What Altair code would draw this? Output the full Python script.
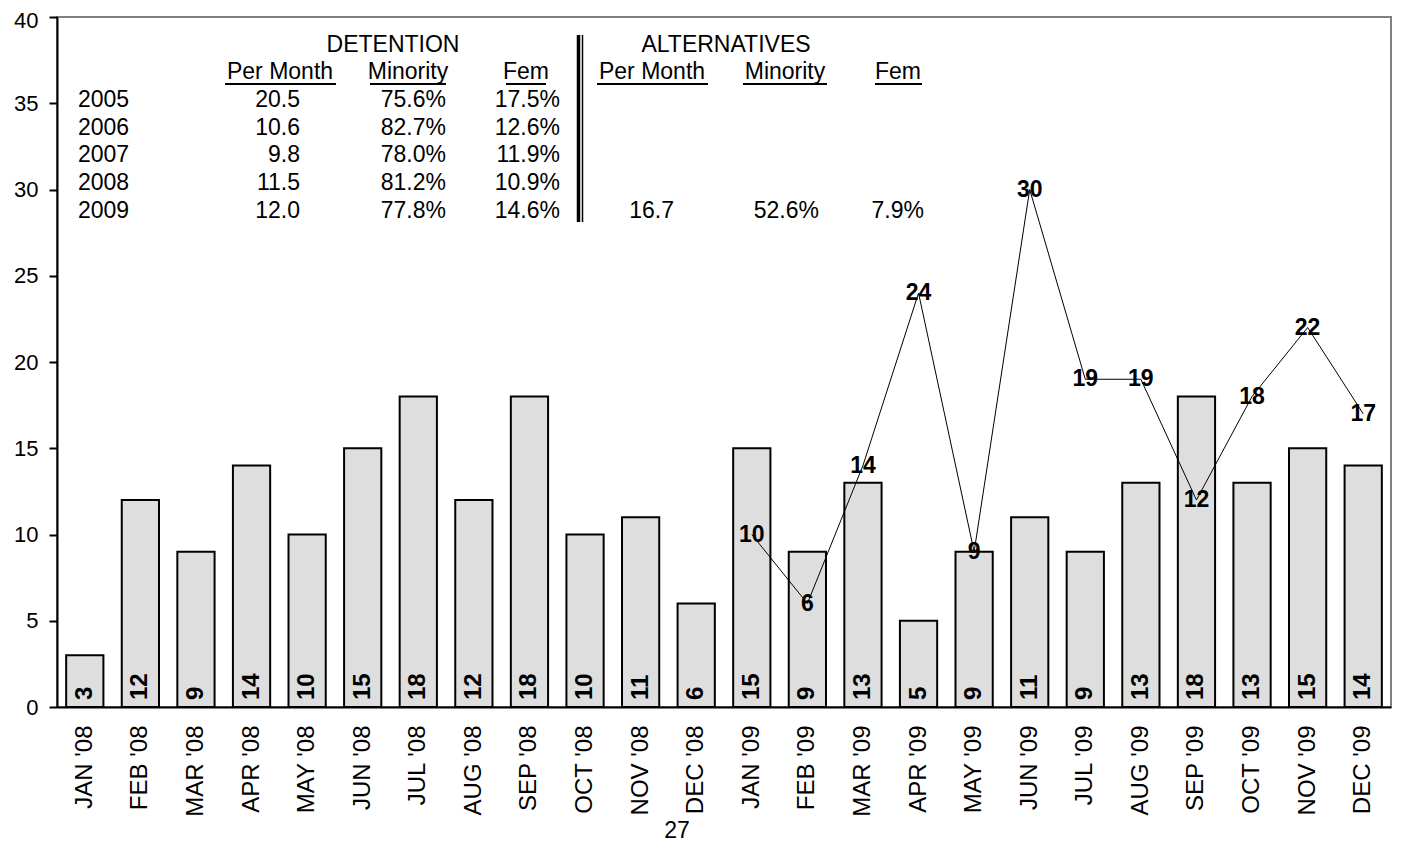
import altair as alt
import pandas as pd

# ---------------- data ----------------
months = ["JAN '08", "FEB '08", "MAR '08", "APR '08", "MAY '08", "JUN '08",
          "JUL '08", "AUG '08", "SEP '08", "OCT '08", "NOV '08", "DEC '08",
          "JAN '09", "FEB '09", "MAR '09", "APR '09", "MAY '09", "JUN '09",
          "JUL '09", "AUG '09", "SEP '09", "OCT '09", "NOV '09", "DEC '09"]
detention = [3, 12, 9, 14, 10, 15, 18, 12, 18, 10, 11, 6,
             15, 9, 13, 5, 9, 11, 9, 13, 18, 13, 15, 14]
alt_months = months[12:]
alternatives = [10, 6, 14, 24, 9, 30, 19, 19, 12, 18, 22, 17]

years = ["2005", "2006", "2007", "2008", "2009"]
det_per_month = ["20.5", "10.6", "9.8", "11.5", "12.0"]
det_minority = ["75.6%", "82.7%", "78.0%", "81.2%", "77.8%"]
det_fem = ["17.5%", "12.6%", "11.9%", "10.9%", "14.6%"]
alt_2009 = ["16.7", "52.6%", "7.9%"]
col_heads = ["Per Month", "Minority", "Fem"]
group_heads = ["DETENTION", "ALTERNATIVES"]
page_number = "27"

# ---------------- layout ----------------
W, H = 1334, 690
X0, Y0 = 57, 17          # page position of plot origin
FONT = "Liberation Sans"
TABLE_FS = 23

def px(v):
    return v - X0

def py(v):
    return v - Y0

row_y = [100, 128, 155, 183, 211]
title_y, head_y, uline_y = 45, 72, 84
det_right = [300, 446, 560]
alt_right = [674, 819, 924]
det_head_c = [280, 408, 526]
alt_head_c = [652, 785, 898]
det_ul = [(225, 336), (370, 446), (506, 546)]
alt_ul = [(597, 708), (743, 827), (875, 922)]

bars_df = pd.DataFrame({"month": months, "count": detention})
line_df = pd.DataFrame({"month": alt_months, "count": alternatives})

x_enc = alt.X("month:N", sort=months,
              scale=alt.Scale(paddingInner=0.33, paddingOuter=0.165),
              axis=alt.Axis(title=None, labelAngle=-90, ticks=False,
                            domainColor="black", domainWidth=2,
                            labelFontSize=24, labelColor="black",
                            labelFont=FONT, labelPadding=18))
y_scale = alt.Scale(domain=[0, 40], nice=False)
y_enc = alt.Y("count:Q", scale=y_scale,
              axis=alt.Axis(title=None, values=list(range(0, 41, 5)), grid=False,
                            domainColor="black", domainWidth=2,
                            tickColor="black", tickWidth=2, tickSize=8,
                            labelFontSize=22, labelColor="black",
                            labelFont=FONT, labelPadding=11,
                            labelOffset={"condition": {"test": "datum.value == 40",
                                                       "value": 3},
                                         "value": 0}))

bars = alt.Chart(bars_df).mark_bar(fill="#dedede", stroke="black",
                                   strokeWidth=2).encode(x=x_enc, y=y_enc)

bar_labels = alt.Chart(bars_df).mark_text(
    angle=270, align="left", baseline="middle", dx=7,
    fontWeight="bold", fontSize=24, font=FONT, color="black"
).encode(x=alt.X("month:N", sort=months), y=alt.datum(0), text="count:Q")

line = alt.Chart(line_df).mark_line(color="black", strokeWidth=1).encode(
    x=alt.X("month:N", sort=months), y=alt.Y("count:Q"))

line_labels = alt.Chart(line_df).mark_text(
    align="center", baseline="middle", fontWeight="bold", fontSize=23,
    font=FONT, color="black"
).encode(x=alt.X("month:N", sort=months), y=alt.Y("count:Q"), text="count:Q")

main = alt.layer(bars, bar_labels, line, line_labels)

# ---------------- table annotation ----------------
left_rows, right_rows, center_rows = [], [], []
for yr, yy in zip(years, row_y):
    left_rows.append({"t": yr, "x": px(78), "y": py(yy)})
for col, xr in zip([det_per_month, det_minority, det_fem], det_right):
    for v, yy in zip(col, row_y):
        right_rows.append({"t": v, "x": px(xr), "y": py(yy)})
for v, xr in zip(alt_2009, alt_right):
    right_rows.append({"t": v, "x": px(xr), "y": py(row_y[-1])})
for h, xc in zip(col_heads, det_head_c):
    center_rows.append({"t": h, "x": px(xc), "y": py(head_y)})
for h, xc in zip(col_heads, alt_head_c):
    center_rows.append({"t": h, "x": px(xc), "y": py(head_y)})
center_rows.append({"t": group_heads[0], "x": px(393), "y": py(title_y)})
center_rows.append({"t": group_heads[1], "x": px(726), "y": py(title_y)})


def text_layer(rows, align, baseline="middle"):
    return alt.Chart(pd.DataFrame(rows)).mark_text(
        align=align, baseline=baseline, fontSize=TABLE_FS, font=FONT, color="black"
    ).encode(x=alt.X("x:Q", scale=None, axis=None),
             y=alt.Y("y:Q", scale=None, axis=None), text="t:N")

page_num = text_layer([{"t": page_number, "x": px(677), "y": py(838)}],
                      "center", "alphabetic")

ul_rows = [{"x": px(a), "x2": px(b), "y": py(uline_y)} for a, b in det_ul + alt_ul]
underlines = alt.Chart(pd.DataFrame(ul_rows)).mark_rule(
    color="black", strokeWidth=2
).encode(x=alt.X("x:Q", scale=None, axis=None), x2="x2:Q",
         y=alt.Y("y:Q", scale=None, axis=None))

sep_rows = [{"x": px(578.5), "y": py(35), "y2": py(222), "w": 3.5},
            {"x": px(582.5), "y": py(35), "y2": py(222), "w": 1.5}]
separator = alt.Chart(pd.DataFrame(sep_rows)).mark_rule(color="black").encode(
    x=alt.X("x:Q", scale=None, axis=None),
    y=alt.Y("y:Q", scale=None, axis=None), y2="y2:Q",
    strokeWidth=alt.StrokeWidth("w:Q", scale=None, legend=None))

annot = alt.layer(text_layer(left_rows, "left"), text_layer(right_rows, "right"),
                  text_layer(center_rows, "center"), page_num, underlines, separator)

chart = alt.layer(main, annot).resolve_scale(
    x="independent", y="independent"
).properties(
    width=W, height=H,
    padding={"left": 49, "top": 9, "right": 2, "bottom": 137},
    autosize=alt.AutoSizeParams(type="none"),
    background="white",
).configure_view(stroke="#808080", strokeWidth=2)

chart.save("out.html", embed_options={"renderer": "svg", "actions": False})
